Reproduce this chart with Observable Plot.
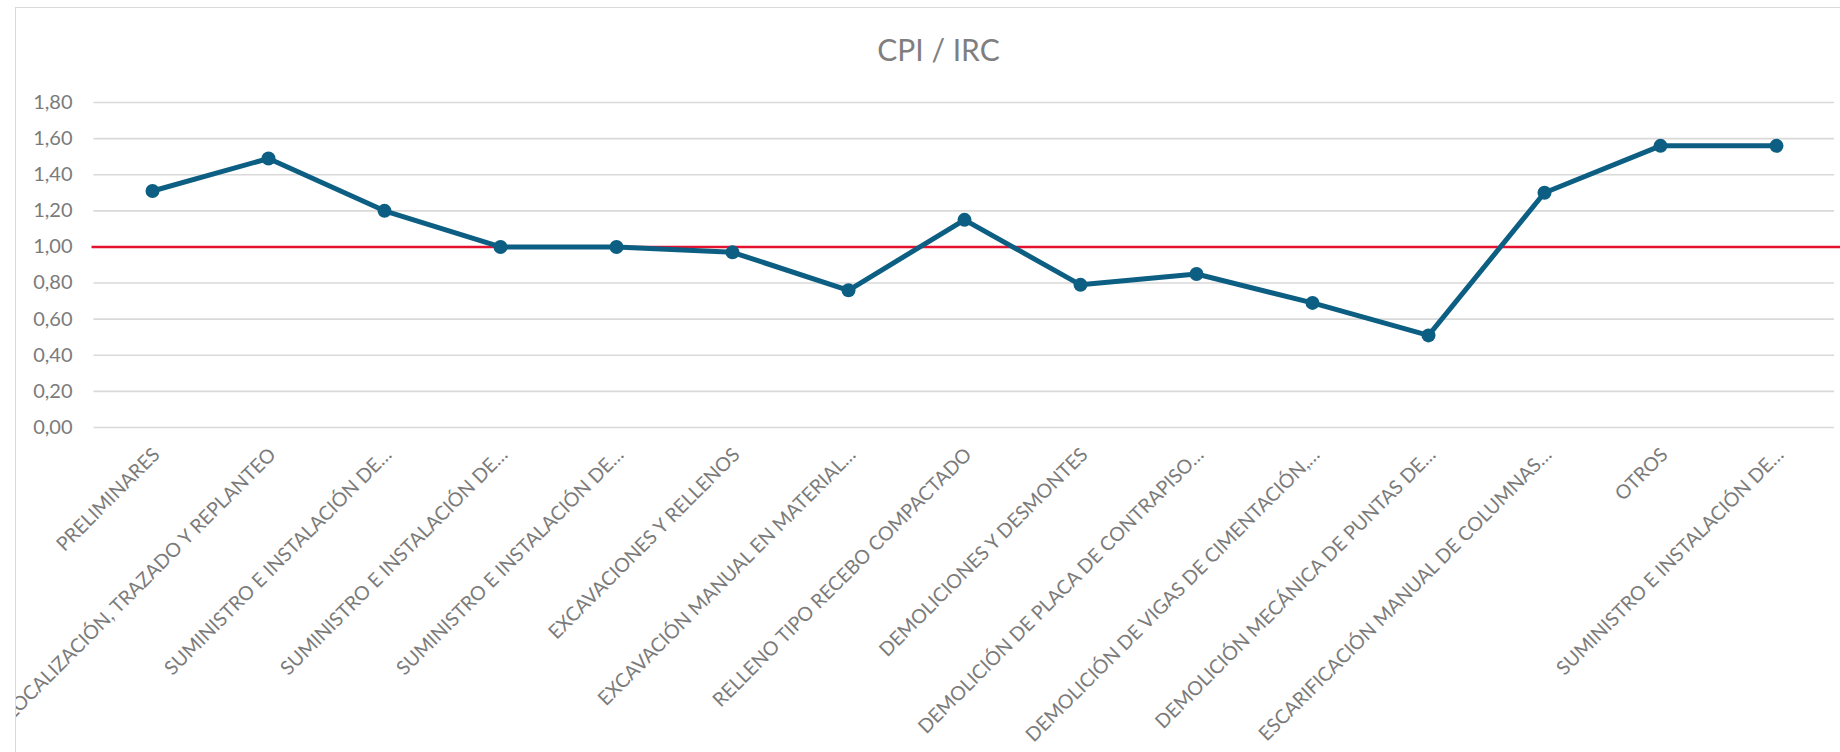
<!DOCTYPE html>
<html>
<head>
<meta charset="utf-8">
<script src="https://cdn.jsdelivr.net/npm/d3@7"></script>
<script src="https://cdn.jsdelivr.net/npm/@observablehq/plot@0.6"></script>
<style>
  html, body { margin: 0; padding: 0; background: #fff; overflow: hidden; }
  #frame { position: absolute; left: 15px; top: 7px; width: 1900px; height: 800px;
           border: 1.5px solid #d9d9d9; overflow: hidden; box-sizing: border-box; background: #fff; }
  #inner { position: absolute; left: -16.5px; top: -8.5px; width: 1840px; }
  #title { width: 1878px; height: 80px; box-sizing: border-box; padding-top: 34px;
           text-align: center; font: 30px/30px Lato, sans-serif; color: #7f7f7f; }
  #chart svg { display: block; }
</style>
</head>
<body>
<div id="frame"><div id="inner"><div id="title">CPI / IRC</div><div id="chart"></div></div></div>
<script>
const categories = [
  "PRELIMINARES",
  "LOCALIZACIÓN, TRAZADO Y REPLANTEO",
  "SUMINISTRO E INSTALACIÓN DE…",
  "SUMINISTRO E INSTALACIÓN DE…",
  "SUMINISTRO E INSTALACIÓN DE…",
  "EXCAVACIONES Y RELLENOS",
  "EXCAVACIÓN MANUAL EN MATERIAL…",
  "RELLENO TIPO RECEBO COMPACTADO",
  "DEMOLICIONES Y DESMONTES",
  "DEMOLICIÓN DE PLACA DE CONTRAPISO…",
  "DEMOLICIÓN DE VIGAS DE CIMENTACIÓN,…",
  "DEMOLICIÓN MECÁNICA DE PUNTAS DE…",
  "ESCARIFICACIÓN MANUAL DE COLUMNAS…",
  "OTROS",
  "SUMINISTRO E INSTALACIÓN DE…"
];
const cpiValues = [1.31, 1.49, 1.20, 1.00, 1.00, 0.97, 0.76, 1.15, 0.79, 0.85, 0.69, 0.51, 1.30, 1.56, 1.56];
const referenceValue = [1.00];
const yTicks = [0, 0.2, 0.4, 0.6, 0.8, 1.0, 1.2, 1.4, 1.6, 1.8];

const data = categories.map((c, i) => ({i, cat: c, v: cpiValues[i]}));
const fmt = d => d.toFixed(2).replace(".", ",");
const font = "Lato, sans-serif";

const chart = Plot.plot({
  width: 1840,
  height: 672,
  marginTop: 22,
  marginBottom: 325,
  marginLeft: 93.5,
  marginRight: 6,
  style: {fontFamily: font, background: "transparent", overflow: "visible"},
  x: {type: "point", domain: d3.range(categories.length), padding: 0.5, axis: null},
  y: {domain: [0, 1.8], axis: null},
  marks: [
    Plot.gridY(yTicks, {stroke: "#d9d9d9", strokeOpacity: 1, strokeWidth: 1.6}),
    Plot.axisY(yTicks, {tickSize: 0, tickPadding: 21.5, tickFormat: fmt, fontSize: 20, fill: "#7b7b7b", label: null}),
    Plot.text(data, {x: "i", y: () => 0, text: "cat", rotate: -45, textAnchor: "end", lineAnchor: "middle",
                     dx: 4, dy: 24, fontSize: 19.5, fill: "#7b7b7b"}),
    Plot.ruleY(referenceValue, {stroke: "#e3122f", strokeWidth: 2.6, insetLeft: -2, insetRight: -6}),
    Plot.line(data, {x: "i", y: "v", stroke: "#0c5f83", strokeWidth: 5, strokeLinejoin: "round"}),
    Plot.dot(data, {x: "i", y: "v", r: 7, fill: "#0c5f83", stroke: "none"})
  ]
});
document.getElementById("chart").appendChild(chart);
</script>
</body>
</html>
